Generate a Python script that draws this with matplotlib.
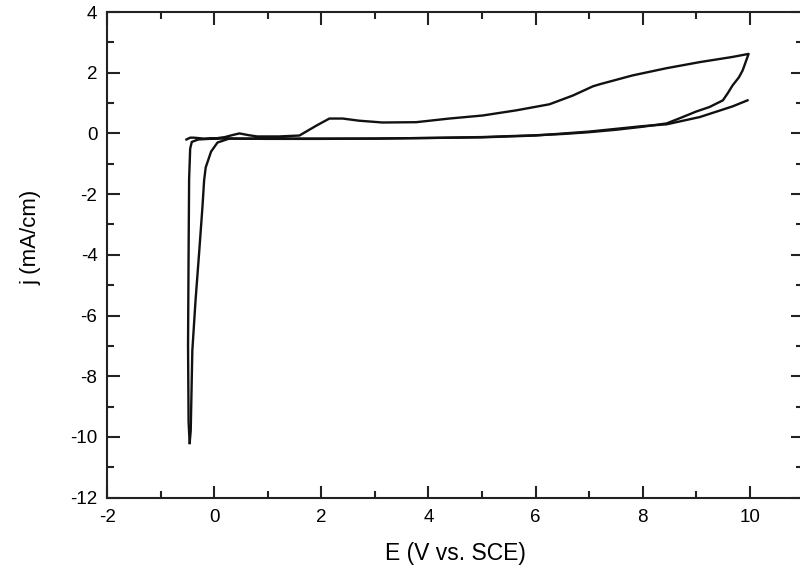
import numpy as np
import matplotlib
matplotlib.use('Agg')
import matplotlib.pyplot as plt
from matplotlib.ticker import MultipleLocator

plt.rcParams['font.family'] = ['Liberation Sans', 'DejaVu Sans']
plt.rcParams['axes.unicode_minus'] = False

# first cycle: forward scan, reverse scan and cathodic peak
E1 = [-0.52, -0.45, -0.38, -0.2, 0.3, 1.0, 2.0, 3.0, 4.0, 5.0, 5.5, 6.0, 6.5, 7.0, 7.5, 8.0,
      8.45, 8.75, 9.0, 9.25, 9.5, 9.6, 9.68, 9.8, 9.87, 9.98,
      9.68, 9.07, 8.45, 7.81, 7.2, 7.07, 6.7, 6.26, 5.64, 5.01, 4.39, 3.77, 3.14, 2.7, 2.4,
      2.15, 1.9, 1.59, 1.2, 0.8, 0.65, 0.47, 0.35, 0.2, 0.0, -0.3, -0.42, -0.45, -0.47,
      -0.48, -0.49, -0.48, -0.46]
j1 = [-0.20, -0.14, -0.14, -0.17, -0.17, -0.17, -0.17, -0.17, -0.15, -0.12, -0.09, -0.06, -0.02, 0.04, 0.12, 0.22,
      0.33, 0.54, 0.72, 0.87, 1.09, 1.35, 1.58, 1.85, 2.08, 2.62,
      2.52, 2.35, 2.15, 1.91, 1.62, 1.55, 1.25, 0.96, 0.76, 0.59, 0.49, 0.37, 0.36, 0.42, 0.49,
      0.49, 0.25, -0.07, -0.10, -0.10, -0.06, 0.0, -0.05, -0.12, -0.17, -0.20, -0.28, -0.5, -1.5,
      -4.0, -7.0, -9.5, -10.2]

# second cycle: recovery from the peak and forward scan
E2 = [-0.46, -0.44, -0.41, -0.35, -0.28, -0.22, -0.19, -0.16, -0.06, 0.06, 0.28, 1.0, 2.0, 3.0,
      4.0, 5.0, 6.0, 7.0, 7.5, 8.0, 8.45, 9.07, 9.68, 9.96]
j2 = [-10.2, -9.8, -7.16, -5.5, -3.86, -2.4, -1.55, -1.12, -0.6, -0.3, -0.17, -0.18, -0.18, -0.17,
      -0.15, -0.13, -0.07, 0.06, 0.15, 0.24, 0.30, 0.54, 0.89, 1.09]

fig = plt.figure(figsize=(8, 5.72), dpi=100)
ax = fig.add_axes([0.134, 0.130, 0.870, 0.849])

ax.plot(E1, j1, color='#111111', lw=1.7)
ax.plot(E2, j2, color='#111111', lw=1.7)

ax.set_xlim(-2, 11)
ax.set_ylim(-12, 4)
ax.xaxis.set_major_locator(MultipleLocator(2))
ax.xaxis.set_minor_locator(MultipleLocator(1))
ax.yaxis.set_major_locator(MultipleLocator(2))
ax.yaxis.set_minor_locator(MultipleLocator(1))
ax.tick_params(which='both', direction='in', top=True, right=True, labelsize=13.5, width=1.5, color='#222222')
ax.tick_params(axis='x', which='major', length=9, pad=8)
ax.tick_params(axis='y', which='major', length=9, pad=7)
ax.tick_params(which='minor', length=5)
for s in ax.spines.values():
    s.set_linewidth(1.5)
    s.set_color('#222222')

ax.set_xlabel('E (V vs. SCE)', fontsize=16.5, labelpad=12)
ax.set_ylabel('j (mA/cm)', fontsize=16)
ax.yaxis.set_label_coords(-0.095, 0.535)

fig.savefig('out.png', dpi=100)
